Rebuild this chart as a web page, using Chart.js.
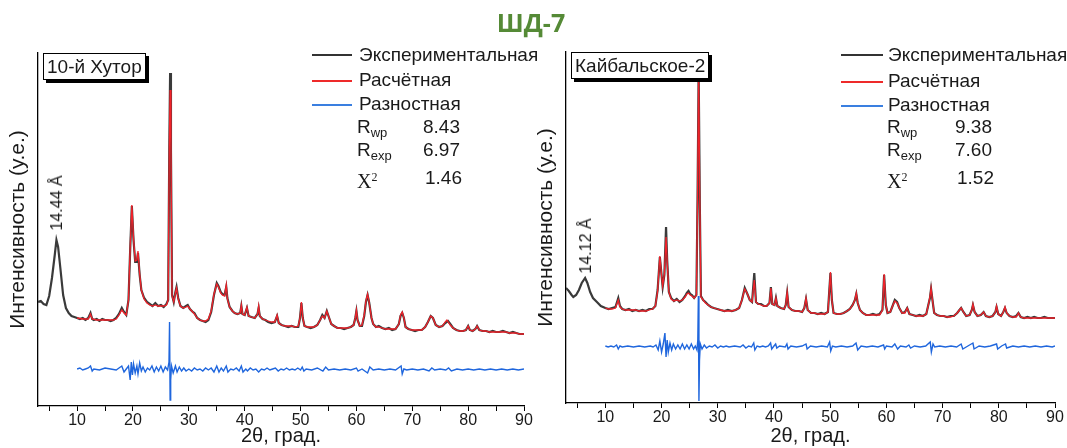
<!DOCTYPE html>
<html><head><meta charset="utf-8">
<script src="https://cdn.jsdelivr.net/npm/chart.js@4.4.1/dist/chart.umd.min.js"></script>
<style>
html,body{margin:0;padding:0;background:#fff;}
#wrap{position:relative;width:1067px;height:448px;overflow:hidden;font-family:"Liberation Sans",Arial,sans-serif;color:#1a1a1a;}
canvas{position:absolute;top:0;}
.t{position:absolute;white-space:nowrap;font-size:19px;line-height:20px;height:20px;}
.ln{position:absolute;height:2px;}
.box{position:absolute;background:#fff;border:1px solid #000;box-shadow:3px 3px 0 #000;font-size:19px;line-height:25px;height:25px;padding:0 3px;white-space:nowrap;z-index:5;}
.rot{position:absolute;white-space:nowrap;font-size:16px;line-height:18px;transform:translate(-50%,-50%) rotate(-90deg);}
sub{font-size:13px;vertical-align:-4px;}
.serif{font-family:"Liberation Serif","Times New Roman",serif;font-size:20px;}
.serif sup{font-size:12px;vertical-align:7px;}
#title{position:absolute;left:431px;top:6px;width:200px;text-align:center;font-family:"Open Sans","Liberation Sans",sans-serif;font-weight:bold;font-size:25px;line-height:32px;color:#558a36;}
</style></head>
<body><div id="wrap">
<canvas id="cL" width="545" height="448" style="left:0;width:545px;height:448px"></canvas>
<canvas id="cR" width="539" height="448" style="left:528px;width:539px;height:448px"></canvas>
<div id="title">ШД-7</div>

<div class="box" style="left:43px;top:53px;">10-й Хутор</div>
<div class="box" style="left:571px;top:52px;">Кайбальское-2</div>

<div class="rot" style="left:57px;top:203px;">14.44 Å</div>
<div class="rot" style="left:586px;top:246px;">14.12 Å</div>

<div class="ln" style="left:312px;top:54px;width:40px;background:#333"></div>
<div class="t" style="left:359px;top:45px;">Экспериментальная</div>
<div class="ln" style="left:312px;top:80px;width:40px;background:#ee2a2a"></div>
<div class="t" style="left:359px;top:70px;">Расчётная</div>
<div class="ln" style="left:312px;top:104px;width:40px;background:#3a7fe0"></div>
<div class="t" style="left:359px;top:94px;">Разностная</div>
<div class="t" style="left:357px;top:117px;">R<sub>wp</sub></div>
<div class="t" style="left:423px;top:117px;">8.43</div>
<div class="t" style="left:357px;top:140px;">R<sub>exp</sub></div>
<div class="t" style="left:423px;top:140px;">6.97</div>
<div class="t serif" style="left:357px;top:167px;">X<sup>2</sup></div>
<div class="t" style="left:425px;top:168px;">1.46</div>

<div class="ln" style="left:841px;top:54px;width:42px;background:#333"></div>
<div class="t" style="left:888px;top:45px;">Экспериментальная</div>
<div class="ln" style="left:841px;top:81px;width:42px;background:#ee2a2a"></div>
<div class="t" style="left:888px;top:71px;">Расчётная</div>
<div class="ln" style="left:841px;top:105px;width:42px;background:#3a7fe0"></div>
<div class="t" style="left:888px;top:95px;">Разностная</div>
<div class="t" style="left:887px;top:117px;">R<sub>wp</sub></div>
<div class="t" style="left:955px;top:117px;">9.38</div>
<div class="t" style="left:887px;top:140px;">R<sub>exp</sub></div>
<div class="t" style="left:955px;top:140px;">7.60</div>
<div class="t serif" style="left:887px;top:167px;">X<sup>2</sup></div>
<div class="t" style="left:957px;top:168px;">1.52</div>
</div>
<script>
// ---- data (2θ, intensity in arbitrary units) ----
const xTickValues = [10,20,30,40,50,60,70,80,90];

const leftExp = [[3,104],[3.5,105],[4,102],[4.5,101],[5,110],[5.5,128],[6,151],[6.3,166],[6.6,159],[7,138],[7.5,111],[8,98],[8.5,93],[9,90],[9.5,89],[10,88],[10.5,87],[11,88],[11.5,86],[12,88],[12.4,93],[12.7,87],[13,86],[13.5,87],[14,85],[14.5,87],[15,86],[15.5,86],[16,85],[16.5,86],[17,88],[17.5,92],[18,98],[18.4,94],[18.8,91],[19.2,106],[19.5,156],[19.8,200],[20.1,166],[20.4,144],[20.7,144],[20.9,153],[21.2,131],[21.5,116],[22,108],[22.5,104],[23,102],[23.5,100],[24,103],[24.5,100],[25,101],[25.5,99],[26,102],[26.3,106],[26.5,256],[26.65,333],[26.8,256],[27,111],[27.3,104],[27.6,114],[27.8,119],[28.1,108],[28.5,100],[29,98],[29.5,100],[29.8,101],[30.2,97],[30.7,94],[31,93],[31.5,88],[32,86],[32.5,85],[33,84],[33.5,86],[34,94],[34.5,111],[35,123],[35.3,120],[35.7,114],[36,112],[36.4,111],[36.7,119],[36.9,108],[37.3,99],[37.8,95],[38.2,93],[38.7,92],[39.2,93],[39.4,100],[39.6,92],[40,91],[40.4,98],[40.7,90],[41.2,89],[41.8,88],[42.3,92],[42.5,98],[42.7,90],[43.2,87],[43.7,86],[44.2,84],[44.8,83],[45.4,84],[45.8,90],[46.1,83],[46.6,81],[47.2,80],[47.8,79],[48.4,80],[49,79],[49.6,79],[49.9,88],[50.15,103],[50.4,88],[50.7,80],[51.2,79],[51.8,78],[52.4,79],[53,81],[53.5,86],[53.9,91],[54.3,88],[54.7,95],[55,90],[55.5,82],[56,80],[56.6,78],[57.2,78],[57.8,77],[58.4,78],[59,79],[59.5,81],[59.8,88],[60,95],[60.2,86],[60.6,80],[61,80],[61.4,90],[61.7,104],[62,111],[62.3,103],[62.7,88],[63,82],[63.5,79],[64,80],[64.6,78],[65.2,77],[65.8,78],[66.4,76],[67,77],[67.6,82],[67.9,90],[68.2,93],[68.5,88],[68.8,79],[69.3,77],[69.9,76],[70.5,75],[71.1,76],[71.7,76],[72.3,79],[72.8,84],[73.3,90],[73.7,88],[74.2,81],[74.8,79],[75.4,80],[75.9,83],[76.4,85],[76.8,82],[77.3,78],[77.9,76],[78.5,75],[79.1,75],[79.6,76],[80,80],[80.3,76],[80.8,75],[81.3,77],[81.6,80],[82,76],[82.6,75],[83.2,75],[83.8,74],[84.4,75],[85,74],[85.6,74],[86.2,75],[86.8,74],[87.4,73],[88,74],[88.6,73],[89.2,72],[90,72]];

const leftCalc = [[10,88],[11,87],[12,87],[12.4,92],[12.7,87],[13.5,86],[14.5,86],[15.5,86],[16.5,86],[17,87],[17.5,91],[18,96],[18.4,93],[18.8,91],[19.2,106],[19.5,158],[19.8,201],[20.1,168],[20.4,145],[20.7,146],[20.9,155],[21.2,132],[21.5,116],[22,107],[22.5,103],[23,101],[23.5,100],[24,101],[24.5,100],[25,100],[25.5,100],[26,101],[26.3,106],[26.5,256],[26.65,316],[26.8,256],[27,110],[27.3,104],[27.6,113],[27.8,118],[28.1,107],[28.5,100],[29,98],[29.5,99],[29.8,100],[30.2,97],[30.7,94],[31,92],[31.5,88],[32,86],[32.5,85],[33,85],[33.5,87],[34,95],[34.5,112],[35,122],[35.3,119],[35.7,113],[36,111],[36.4,110],[36.7,121],[36.9,107],[37.3,99],[37.8,95],[38.2,93],[38.7,92],[39.2,93],[39.4,101],[39.6,92],[40,91],[40.4,99],[40.7,90],[41.2,89],[41.8,88],[42.3,92],[42.5,100],[42.7,90],[43.2,87],[43.7,86],[44.2,85],[44.8,84],[45.4,84],[45.8,91],[46.1,83],[46.6,81],[47.2,80],[47.8,80],[48.4,80],[49,79],[49.6,80],[49.9,88],[50.15,104],[50.4,88],[50.7,80],[51.2,79],[51.8,79],[52.4,79],[53,81],[53.5,86],[53.9,90],[54.3,88],[54.7,95],[55,90],[55.5,82],[56,80],[56.6,78],[57.2,78],[57.8,78],[58.4,78],[59,79],[59.5,81],[59.8,88],[60,96],[60.2,86],[60.6,80],[61,81],[61.4,91],[61.7,105],[62,112],[62.3,103],[62.7,88],[63,82],[63.5,79],[64,79],[64.6,78],[65.2,77],[65.8,77],[66.4,77],[67,77],[67.6,82],[67.9,91],[68.2,94],[68.5,88],[68.8,79],[69.3,77],[69.9,76],[70.5,76],[71.1,76],[71.7,76],[72.3,79],[72.8,84],[73.3,90],[73.7,88],[74.2,81],[74.8,79],[75.4,80],[75.9,84],[76.2,86],[76.8,81],[77.3,78],[77.9,76],[78.5,75],[79.1,75],[79.6,76],[80,80],[80.3,76],[80.8,75],[81.3,77],[81.6,80],[82,76],[82.6,75],[83.2,75],[83.8,74],[84.4,74],[85,74],[85.6,74],[86.2,74],[86.8,74],[87.4,73],[88,73],[88.6,73],[89.2,72],[90,72]];

const leftDiff = [[10,37],[10.5,38],[11,36],[11.5,37],[12,38],[12.4,40],[12.7,35],[13,37],[14,36],[15,38],[16,37],[17,36],[17.5,38],[18,40],[18.4,34],[18.8,37],[19.2,40],[19.5,26],[19.7,44],[19.9,31],[20.1,42],[20.4,33],[20.7,40],[20.9,32],[21.2,43],[21.5,35],[21.8,39],[22.2,34],[22.6,38],[23,36],[23.4,40],[23.8,34],[24.2,39],[24.6,35],[25,40],[25.4,34],[25.8,39],[26.2,36],[26.45,44],[26.55,84],[26.65,6],[26.75,26],[26.9,40],[27.2,33],[27.6,40],[27.9,34],[28.3,39],[28.7,35],[29.1,38],[29.5,35],[30,37],[30.5,35],[31,38],[31.5,36],[32,37],[32.5,35],[33,38],[33.5,36],[34,38],[34.5,34],[35,40],[35.4,34],[35.8,38],[36.2,35],[36.7,40],[37,34],[37.5,37],[38,36],[38.5,38],[39,35],[39.4,40],[39.7,34],[40.2,37],[40.5,35],[41,38],[41.5,36],[42,37],[42.5,34],[43,37],[43.5,36],[44,38],[44.5,36],[45,37],[45.5,38],[46,35],[46.5,37],[47,36],[47.5,38],[48,36],[48.5,37],[49,36],[49.5,38],[50,36],[50.3,39],[50.6,35],[51,37],[52,36],[53,38],[54,35],[54.5,39],[55,36],[56,37],[57,36],[58,37],[59,36],[60,38],[60.3,35],[61,37],[61.5,35],[62,33],[62.4,39],[63,36],[64,37],[65,36],[66,37],[67,36],[68,40],[68.2,32],[68.5,37],[69,36],[70,37],[71,36],[72,37],[73,35],[73.5,38],[74,36],[75,37],[76,36],[76.5,38],[77,35],[78,37],[79,36],[80,37],[81,36],[82,37],[83,36],[84,37],[85,36],[86,37],[87,36],[88,37],[89,36],[90,37]];

const rightExp = [[3,115],[3.5,112],[4,108],[4.3,106],[4.8,108],[5.3,113],[5.8,120],[6.4,125],[6.8,120],[7.3,111],[7.8,105],[8.5,101],[9.2,97],[10,95],[10.6,94],[11.2,95],[11.8,96],[12.3,105],[12.6,97],[13,94],[13.6,93],[14.2,94],[14.8,92],[15.4,93],[16,92],[16.6,93],[17.2,92],[17.8,94],[18.4,94],[18.9,97],[19.3,113],[19.7,146],[20,128],[20.2,116],[20.5,128],[20.8,176],[21,143],[21.3,111],[21.7,105],[22.2,102],[22.7,104],[23.2,101],[23.7,103],[24.2,107],[24.5,110],[24.8,112],[25.1,109],[25.4,108],[25.8,105],[26.2,108],[26.4,203],[26.6,333],[26.8,203],[27,107],[27.4,103],[27.8,101],[28.3,98],[28.8,96],[29.3,95],[29.9,94],[30.5,93],[31.2,92],[31.8,93],[32.5,92],[33.2,93],[33.8,95],[34.3,103],[34.8,115],[35.2,110],[35.7,103],[36.1,101],[36.5,130],[36.8,101],[37.2,99],[37.7,99],[38.2,97],[38.7,97],[39.2,100],[39.45,116],[39.7,99],[40.1,98],[40.35,105],[40.6,97],[41.2,95],[41.8,94],[42.1,98],[42.35,110],[42.6,96],[43.2,93],[43.8,92],[44.4,92],[45,91],[45.4,95],[45.7,104],[46,93],[46.6,90],[47.2,90],[47.8,89],[48.4,90],[49,89],[49.6,91],[49.85,113],[50.05,130],[50.3,103],[50.6,90],[51.2,89],[51.8,89],[52.4,90],[53,92],[53.5,94],[54,98],[54.4,103],[54.65,109],[54.9,100],[55.3,93],[55.8,90],[56.4,88],[57,88],[57.6,89],[58.2,88],[58.8,89],[59.3,93],[59.6,128],[59.9,98],[60.2,90],[60.7,91],[61.1,97],[61.5,103],[61.9,101],[62.3,95],[62.8,90],[63.3,91],[63.7,95],[64.1,89],[64.7,88],[65.3,87],[65.9,88],[66.5,87],[67.1,89],[67.5,99],[67.75,105],[67.95,114],[68.2,103],[68.5,90],[69,88],[69.6,87],[70.2,87],[70.8,86],[71.4,87],[72,87],[72.6,90],[73,93],[73.3,95],[73.7,91],[74.2,87],[74.8,88],[75.2,93],[75.4,98],[75.7,91],[76.2,87],[76.8,88],[77.3,91],[77.7,87],[78.3,86],[78.9,87],[79.4,91],[79.6,96],[79.9,89],[80.4,87],[80.8,91],[81.1,95],[81.4,90],[81.9,87],[82.5,86],[83.1,87],[83.5,90],[83.9,86],[84.5,85],[85.1,86],[85.7,85],[86.3,86],[86.9,85],[87.5,85],[88.1,86],[88.7,85],[89.3,85],[90,85]];

const rightCalc = [[10,95],[10.6,94],[11.2,94],[11.8,95],[12.3,103],[12.6,96],[13,94],[13.6,93],[14.2,93],[14.8,93],[15.4,93],[16,92],[16.6,92],[17.2,92],[17.8,93],[18.4,94],[18.9,97],[19.3,112],[19.7,147],[20,128],[20.2,117],[20.5,129],[20.8,166],[21,141],[21.3,111],[21.7,104],[22.2,102],[22.7,103],[23.2,102],[23.7,103],[24.2,106],[24.5,109],[24.8,110],[25.1,108],[25.4,107],[25.8,105],[26.2,108],[26.4,203],[26.6,333],[26.8,203],[27,106],[27.4,103],[27.8,100],[28.3,98],[28.8,96],[29.3,95],[29.9,94],[30.5,93],[31.2,92],[31.8,92],[32.5,92],[33.2,93],[33.8,95],[34.3,103],[34.8,114],[35.2,110],[35.7,103],[36.1,101],[36.5,123],[36.8,101],[37.2,99],[37.7,98],[38.2,97],[38.7,97],[39.2,100],[39.45,115],[39.7,99],[40.1,98],[40.35,105],[40.6,97],[41.2,95],[41.8,94],[42.1,98],[42.35,111],[42.6,96],[43.2,93],[43.8,92],[44.4,92],[45,91],[45.4,95],[45.7,105],[46,93],[46.6,90],[47.2,90],[47.8,89],[48.4,89],[49,89],[49.6,91],[49.85,113],[50.05,131],[50.3,103],[50.6,90],[51.2,89],[51.8,89],[52.4,90],[53,92],[53.5,94],[54,98],[54.4,103],[54.65,110],[54.9,100],[55.3,93],[55.8,90],[56.4,88],[57,88],[57.6,88],[58.2,88],[58.8,88],[59.3,93],[59.6,129],[59.9,98],[60.2,90],[60.7,91],[61.1,97],[61.5,102],[61.9,100],[62.3,95],[62.8,90],[63.3,90],[63.7,95],[64.1,89],[64.7,88],[65.3,87],[65.9,87],[66.5,87],[67.1,89],[67.5,99],[67.75,106],[67.95,115],[68.2,103],[68.5,90],[69,88],[69.6,87],[70.2,87],[70.8,86],[71.4,86],[72,87],[72.6,90],[73,93],[73.3,95],[73.7,91],[74.2,87],[74.8,88],[75.2,93],[75.4,99],[75.7,91],[76.2,87],[76.8,88],[77.3,91],[77.7,87],[78.3,86],[78.9,87],[79.4,91],[79.6,97],[79.9,89],[80.4,87],[80.8,91],[81.1,96],[81.4,90],[81.9,87],[82.5,86],[83.1,86],[83.5,90],[83.9,86],[84.5,85],[85.1,85],[85.7,85],[86.3,85],[86.9,85],[87.5,85],[88.1,85],[88.7,85],[89.3,85],[90,85]];

const rightDiff = [[10,57],[10.5,56],[11,57],[11.5,56],[12,58],[12.3,54],[12.6,57],[13,56],[14,57],[15,56],[16,57],[17,56],[18,57],[18.5,56],[19,58],[19.4,53],[19.7,62],[20,51],[20.3,59],[20.6,70],[20.8,46],[21,63],[21.2,51],[21.5,60],[21.8,53],[22.1,59],[22.5,54],[22.9,58],[23.3,54],[23.7,59],[24.1,54],[24.5,58],[24.9,54],[25.3,59],[25.7,54],[26,57],[26.3,53],[26.45,63],[26.55,107],[26.65,2],[26.75,43],[26.9,59],[27.2,54],[27.6,58],[28,55],[28.5,57],[29,56],[29.5,58],[30,55],[30.5,57],[31,56],[31.5,57],[32,56],[33,57],[34,56],[34.5,58],[35,55],[35.5,57],[36,56],[36.4,60],[36.6,53],[37,57],[37.5,56],[38,57],[38.5,56],[39,57],[39.4,60],[39.6,54],[40,57],[40.3,59],[40.5,55],[41,57],[42,56],[42.3,59],[42.5,54],[43,57],[44,56],[45,57],[45.7,59],[45.9,54],[46.5,57],[47.5,56],[48.5,57],[49.5,56],[49.9,61],[50.1,52],[50.4,57],[51,56],[52,57],[53,56],[54,57],[54.6,60],[54.9,53],[55.5,57],[56.5,56],[57.5,57],[58.5,56],[59.5,58],[59.7,54],[60,57],[61,56],[61.5,59],[62,54],[62.5,57],[63.5,56],[64,58],[64.3,55],[65,57],[66,56],[67,57],[67.8,61],[68,51],[68.3,59],[68.6,56],[69.5,57],[70.5,56],[71.5,57],[72.5,56],[73.3,59],[73.6,54],[74.5,57],[75.4,60],[75.6,54],[76.5,57],[77.5,56],[78.5,57],[79.6,59],[79.8,54],[80.5,57],[81.2,59],[81.4,55],[82.5,57],[83.5,56],[84.5,57],[85.5,56],[86.5,57],[87.5,56],[88.5,57],[89.5,56],[90,57]];

// ---- drawing ----
Chart.defaults.font.family = "'Liberation Sans', Arial, sans-serif";
Chart.defaults.color = '#1a1a1a';

const toXY = a => a.map(p => ({x: p[0], y: p[1]}));

function makeChart(id, exp, calc, diff, yMax, axisH, padRight, padTop) {
  return new Chart(document.getElementById(id), {
    type: 'line',
    data: {
      datasets: [
        {label: 'Экспериментальная', data: toXY(exp), borderColor: '#3a3a3a', borderWidth: 2.2, order: 3},
        {label: 'Расчётная', data: toXY(calc), borderColor: '#f0222a', borderWidth: 1.3, order: 2},
        {label: 'Разностная', data: toXY(diff), borderColor: '#1f66dd', borderWidth: 1.4, order: 1}
      ]
    },
    options: {
      responsive: false,
      animation: false,
      elements: {point: {radius: 0}, line: {tension: 0}},
      layout: {padding: {left: 0, right: padRight, top: padTop, bottom: 0}},
      plugins: {legend: {display: false}, tooltip: {enabled: false}},
      scales: {
        x: {
          type: 'linear', min: 3, max: 90,
          afterFit: s => { s.height = axisH; },
          ticks: {
            stepSize: 5, includeBounds: false, autoSkip: false, maxRotation: 0,
            padding: 0, font: {size: 16}, color: '#1a1a1a',
            callback: v => xTickValues.includes(v) ? String(v) : ''
          },
          grid: {drawOnChartArea: false, drawTicks: true, tickLength: 5, color: '#000', lineWidth: 1},
          border: {color: '#000', width: 1.3},
          title: {display: true, text: '2θ, град.', font: {size: 20}, color: '#1a1a1a', padding: {top: 0, bottom: 0}}
        },
        y: {
          min: 0, max: yMax,
          afterFit: s => { s.width = 38; },
          ticks: {display: false},
          grid: {display: false},
          border: {color: '#000', width: 1.3},
          title: {display: true, text: 'Интенсивность (у.е.)', font: {size: 21}, color: '#1a1a1a', padding: {top: 6, bottom: 0}}
        }
      }
    }
  });
}

makeChart('cL', leftExp, leftCalc, leftDiff, 353, 42, 21, 53);
makeChart('cR', rightExp, rightCalc, rightDiff, 351, 45, 12, 52);
</script>
</body></html>
